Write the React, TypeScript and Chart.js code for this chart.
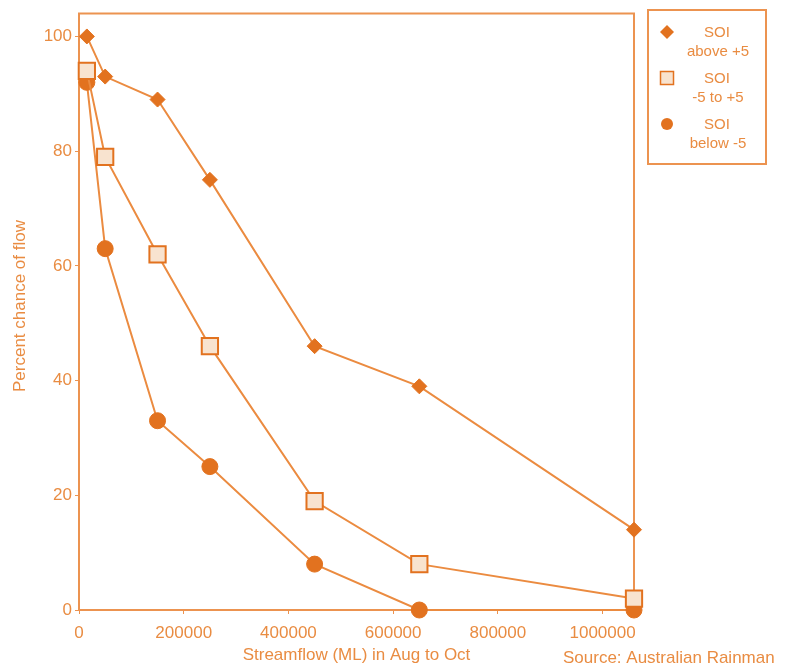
import React, { useEffect, useRef } from "react";
import { Chart, registerables } from "chart.js";

Chart.register(...registerables);

// Streamflow exceedance in Aug to Oct, grouped by SOI phase
const flowML = [15000, 50000, 150000, 250000, 450000, 650000, 1060000];
const soiAbove5 = [100, 93, 89, 75, 46, 39, 14];
const soiMid = [94, 79, 62, 46, 19, 8, 2];
const soiBelow5 = [92, 63, 33, 25, 8, 0, 0];

const xTickValues = [0, 200000, 400000, 600000, 800000, 1000000];
const yTickValues = [0, 20, 40, 60, 80, 100];

const seriesNames = [
  ["SOI", "above +5"],
  ["SOI", "-5 to +5"],
  ["SOI", "below -5"],
];

const xTitle = "Streamflow (ML) in Aug to Oct";
const yTitle = "Percent chance of flow";
const sourceNote = "Source: Australian Rainman";

const MARK = "#E2721F";
const LINE = "#EB8B40";
const TEXT = "#E98C42";
const FRAME = "#EC9350";
const SQUARE_FILL = "#F8E3CF";
const FONT = '"Liberation Sans", Arial, sans-serif';

const toPoints = (ys: number[]) => flowML.map((x, i) => ({ x, y: ys[i] }));

function drawMarker(ctx: CanvasRenderingContext2D, style: string, x: number, y: number, r: number) {
  ctx.beginPath();
  if (style === "rectRot") {
    ctx.moveTo(x, y - r);
    ctx.lineTo(x + r, y);
    ctx.lineTo(x, y + r);
    ctx.lineTo(x - r, y);
    ctx.closePath();
    ctx.fillStyle = MARK;
    ctx.fill();
  } else if (style === "rect") {
    ctx.rect(x - r, y - r, 2 * r, 2 * r);
    ctx.fillStyle = SQUARE_FILL;
    ctx.fill();
    ctx.lineWidth = 1.5;
    ctx.strokeStyle = MARK;
    ctx.stroke();
  } else {
    ctx.arc(x, y, r, 0, Math.PI * 2);
    ctx.fillStyle = MARK;
    ctx.fill();
  }
}

const framePlugin = {
  id: "frameAndNotes",
  beforeDatasetsDraw(chart: any) {
    const { ctx, chartArea: a } = chart;
    ctx.save();
    ctx.strokeStyle = FRAME;
    ctx.lineWidth = 2;
    ctx.strokeRect(a.left, a.top, a.right - a.left, a.bottom - a.top);
    ctx.restore();
  },
  afterDraw(chart: any) {
    const { ctx, chartArea: a } = chart;
    ctx.save();
    ctx.fillStyle = TEXT;
    ctx.font = `17px ${FONT}`;
    ctx.textBaseline = "middle";

    // axis titles
    ctx.save();
    ctx.translate(20, 306);
    ctx.rotate(-Math.PI / 2);
    ctx.textAlign = "center";
    ctx.fillText(yTitle, 0, 0);
    ctx.restore();

    ctx.textAlign = "center";
    ctx.fillText(xTitle, (a.left + a.right) / 2, 655);
    ctx.textAlign = "left";
    ctx.fillText(sourceNote, 563, 658);

    // legend box
    const lx = 648, ly = 10, lw = 118, lh = 154;
    ctx.strokeStyle = FRAME;
    ctx.lineWidth = 2;
    ctx.strokeRect(lx, ly, lw, lh);
    const styles = ["rectRot", "rect", "circle"];
    const sizes = [7, 6.5, 6];
    const rowY = [32, 78, 124];
    ctx.font = `15px ${FONT}`;
    seriesNames.forEach((lines, i) => {
      drawMarker(ctx, styles[i], 667, rowY[i], sizes[i]);
      ctx.fillStyle = TEXT;
      ctx.textAlign = "center";
      ctx.fillText(lines[0], 717, rowY[i] + 1);
      ctx.fillText(lines[1], 718, rowY[i] + 20);
    });
    ctx.restore();
  },
};

export default function App() {
  const canvasRef = useRef<HTMLCanvasElement | null>(null);

  useEffect(() => {
    if (!canvasRef.current) return;
    const chart = new Chart(canvasRef.current, {
      type: "line",
      data: {
        datasets: [
          {
            label: seriesNames[0].join(" "),
            data: toPoints(soiAbove5),
            borderColor: LINE,
            borderWidth: 2,
            pointStyle: "rectRot",
            pointRadius: 7.5,
            pointBackgroundColor: MARK,
            pointBorderColor: MARK,
            pointBorderWidth: 1,
            tension: 0,
            clip: false,
          },
          {
            label: seriesNames[1].join(" "),
            data: toPoints(soiMid),
            borderColor: LINE,
            borderWidth: 2,
            pointStyle: "rect",
            pointRadius: 11.5,
            pointBackgroundColor: SQUARE_FILL,
            pointBorderColor: MARK,
            pointBorderWidth: 2,
            tension: 0,
            clip: false,
          },
          {
            label: seriesNames[2].join(" "),
            data: toPoints(soiBelow5),
            borderColor: LINE,
            borderWidth: 2,
            pointStyle: "circle",
            pointRadius: 8,
            pointBackgroundColor: MARK,
            pointBorderColor: MARK,
            pointBorderWidth: 1,
            tension: 0,
            clip: false,
          },
        ],
      } as any,
      options: {
        animation: false,
        responsive: false,
        maintainAspectRatio: false,
        layout: { padding: { top: 12, right: 155, left: 0, bottom: 0 } },
        plugins: { legend: { display: false }, tooltip: { enabled: false }, title: { display: false } },
        scales: {
          x: {
            type: "linear",
            min: 0,
            max: 1060000,
            afterBuildTicks: (s: any) => {
              s.ticks = xTickValues.map((value) => ({ value }));
            },
            afterFit: (s: any) => {
              s.height = 54;
            },
            ticks: {
              color: TEXT,
              font: { family: FONT, size: 17 },
              padding: 9,
              maxRotation: 0,
              minRotation: 0,
              autoSkip: false,
              callback: (v: any) => String(v),
            },
            grid: { drawOnChartArea: false, tickLength: 4, color: FRAME },
            border: { display: false },
          },
          y: {
            type: "linear",
            min: 0,
            max: 104,
            afterBuildTicks: (s: any) => {
              s.ticks = yTickValues.map((value) => ({ value }));
            },
            afterFit: (s: any) => {
              s.width = 79;
            },
            ticks: {
              color: TEXT,
              font: { family: FONT, size: 17 },
              padding: 3,
              autoSkip: false,
              callback: (v: any) => String(v),
            },
            grid: { drawOnChartArea: false, tickLength: 4, color: FRAME },
            border: { display: false },
          },
        },
      } as any,
      plugins: [framePlugin],
    });
    return () => chart.destroy();
  }, []);

  return (
    <div style={{ position: "fixed", left: 0, top: 0, width: 789, height: 664, background: "#fff" }}>
      <canvas ref={canvasRef} width={789} height={664} style={{ width: 789, height: 664, display: "block" }} />
    </div>
  );
}
